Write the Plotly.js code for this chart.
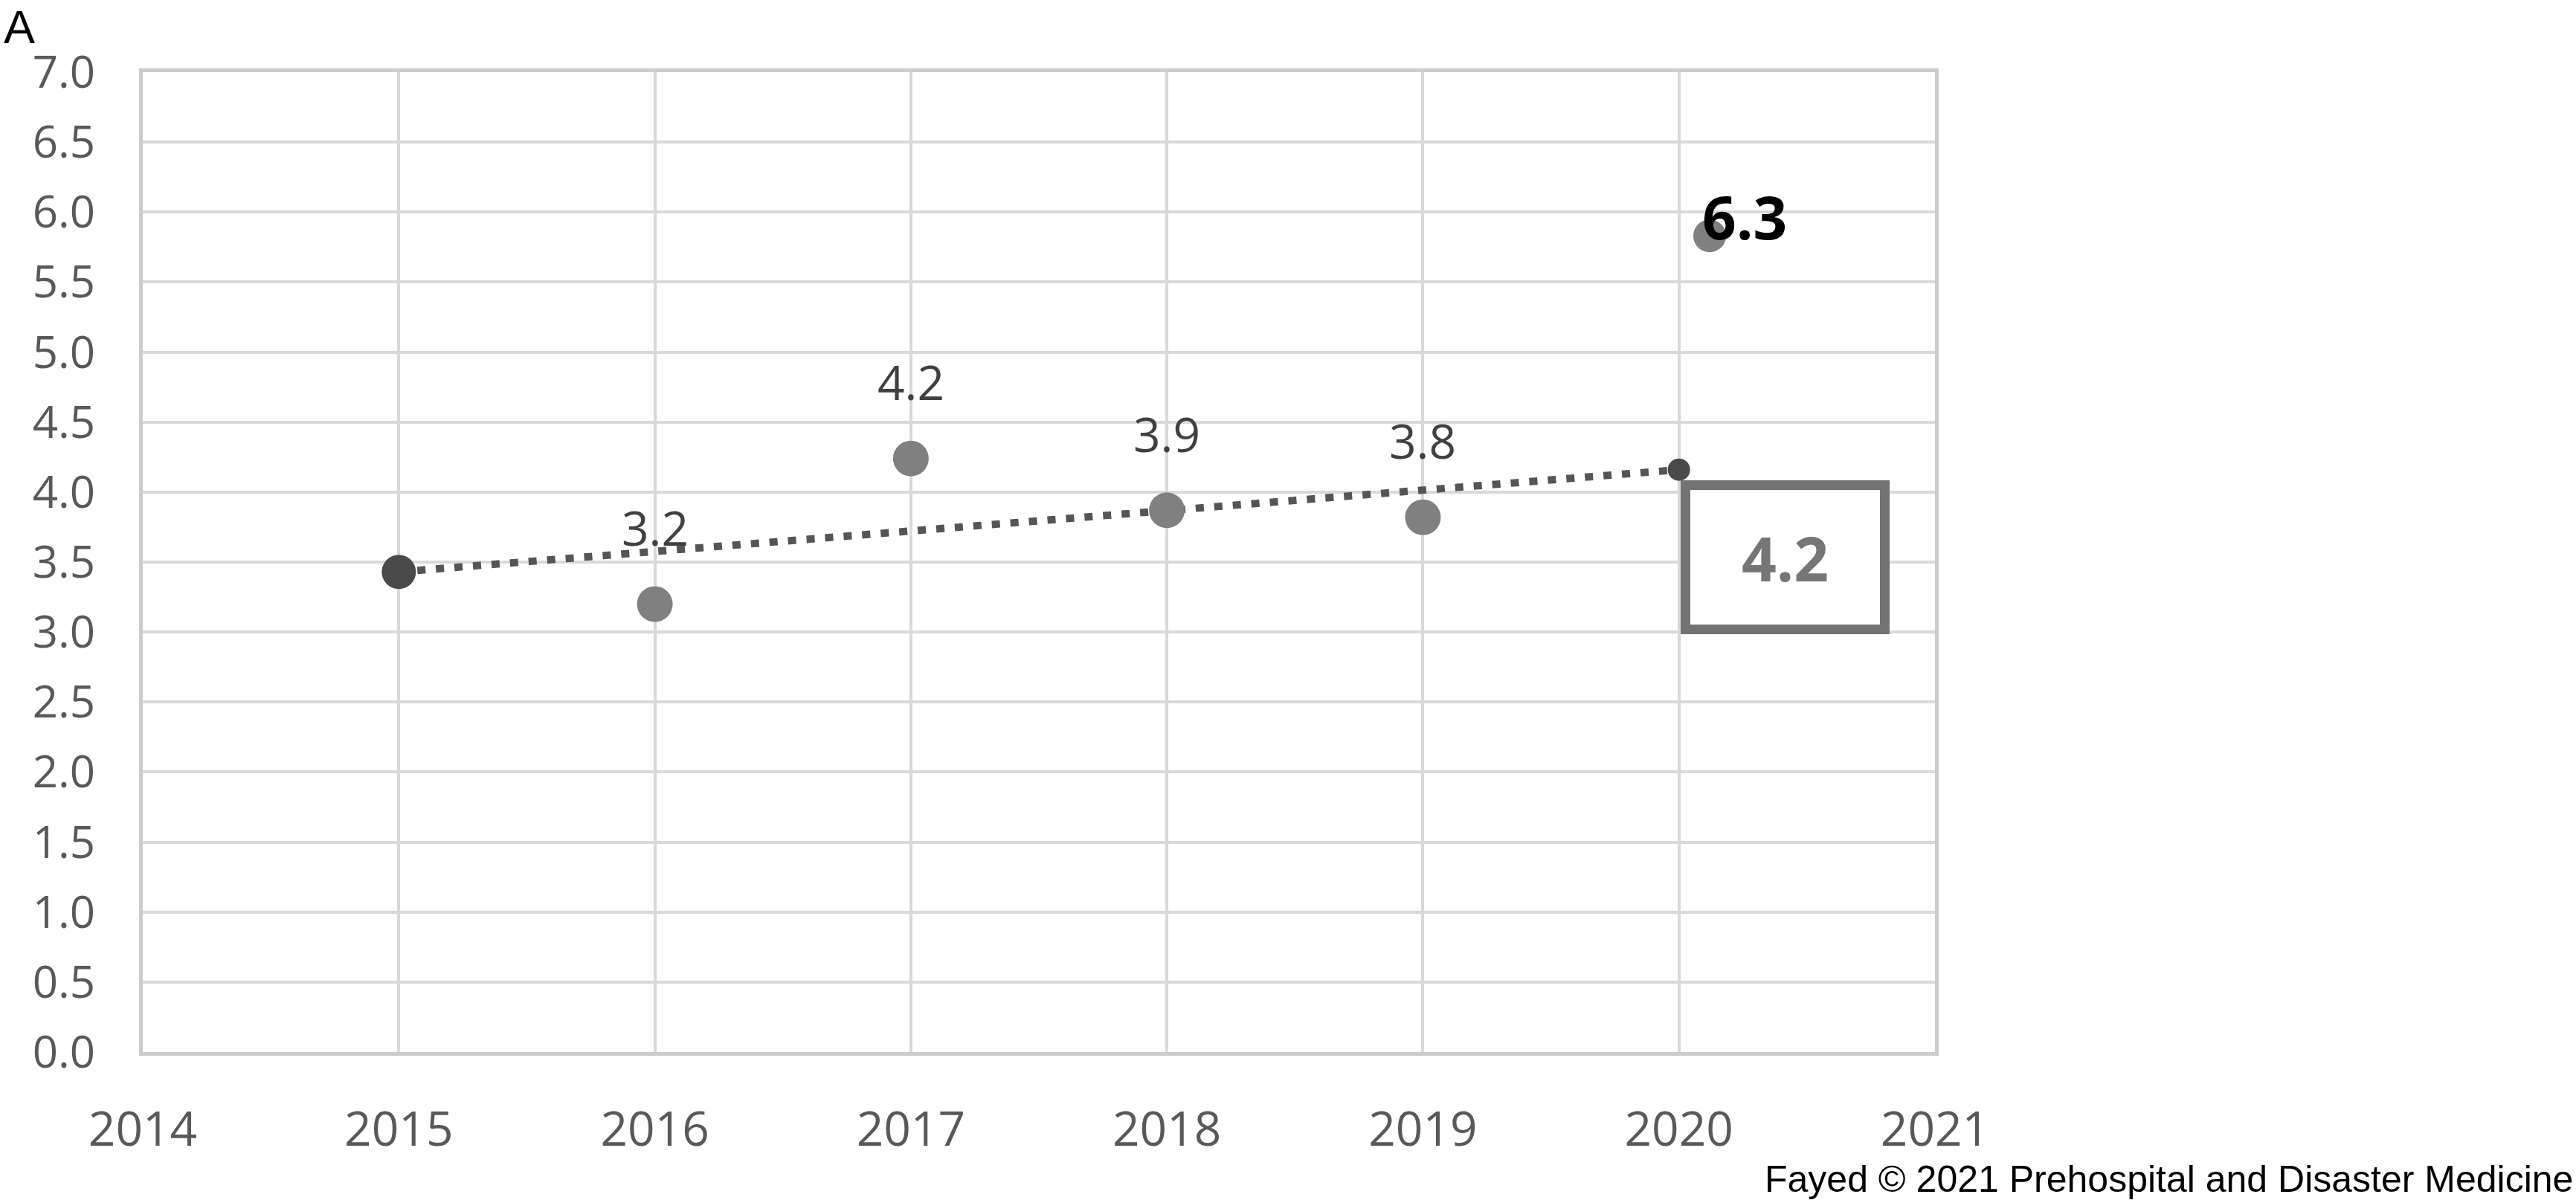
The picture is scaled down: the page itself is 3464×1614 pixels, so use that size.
<!DOCTYPE html>
<html>
<head>
<meta charset="utf-8">
<script src="https://cdn.plot.ly/plotly-3.0.1.min.js"></script>
<style>
  html, body { margin: 0; padding: 0; background: #ffffff; }
  #chart { width: 3464px; height: 1614px; }
</style>
</head>
<body>
<div id="chart"></div>
<script>
// ---- Data ----
const years = [2016, 2017, 2018, 2019];
const values = [3.20, 4.24, 3.87, 3.82];
const valueLabels = ['3.2', '4.2', '3.9', '3.8'];

const trendYears = [2015, 2020];
const trendValues = [3.43, 4.16];
const predictedLabel = ['4.2'];

const outlierYear = [2020.12];
const outlierValue = [5.83];
const outlierLabel = ['6.3'];

const xTickVals = [2014, 2015, 2016, 2017, 2018, 2019, 2020, 2021];
const yTickVals = [0, 0.5, 1, 1.5, 2, 2.5, 3, 3.5, 4, 4.5, 5, 5.5, 6, 6.5, 7];

const panelLabel = 'A';
const footerText = 'Fayed \u00A9 2021 Prehospital and Disaster Medicine';

// ---- Layout geometry (pixels) ----
const W = 3464, H = 1614;
const L = 192, R = 2602, T = 97, B = 1415;
const pw = R - L, ph = B - T;
const px2x = p => (p - L) / pw;
const px2y = p => (B - p) / ph;

const traces = [
  {
    x: trendYears, y: trendValues,
    type: 'scatter', mode: 'lines',
    line: { color: '#555555', width: 10, dash: '11px,14px' },
    hoverinfo: 'skip', showlegend: false
  },
  {
    x: years, y: values,
    type: 'scatter', mode: 'markers',
    marker: { color: '#808080', size: 48, opacity: 1, line: { width: 0 } },
    showlegend: false
  },
  {
    x: trendYears, y: trendValues,
    type: 'scatter', mode: 'markers',
    marker: { color: '#4a4a4a', size: [46, 30], opacity: 1, line: { width: 0 } },
    showlegend: false
  },
  {
    x: outlierYear, y: outlierValue,
    type: 'scatter', mode: 'markers',
    marker: { color: '#808080', size: 44, opacity: 1, line: { width: 0 } },
    showlegend: false
  }
];

const annotations = [];
years.forEach((yr, i) => {
  annotations.push({
    x: yr, y: values[i], xref: 'x', yref: 'y',
    text: valueLabels[i], showarrow: false,
    yshift: 103, xanchor: 'center', yanchor: 'middle',
    font: { family: 'Open Sans', size: 64, color: '#404040' }
  });
});
annotations.push({
  x: outlierYear[0], y: outlierValue[0], xref: 'x', yref: 'y',
  text: outlierLabel[0], showarrow: false,
  xshift: 47, yshift: 27, xanchor: 'center', yanchor: 'middle',
  font: { family: 'Open Sans', size: 80, color: '#000000', weight: 700 }
});
annotations.push({
  x: trendYears[1], y: trendValues[1], xref: 'x', yref: 'y',
  text: predictedLabel[0], showarrow: false,
  xshift: 143, yshift: -118, xanchor: 'center', yanchor: 'middle',
  width: 255, height: 181, align: 'center', valign: 'middle',
  bordercolor: '#737373', borderwidth: 13, borderpad: 0, bgcolor: '#ffffff',
  font: { family: 'Open Sans', size: 82, color: '#767676', weight: 700 }
});
annotations.push({
  x: px2x(3), y: px2y(36), xref: 'paper', yref: 'paper',
  text: panelLabel, showarrow: false, xanchor: 'left', yanchor: 'middle',
  font: { family: 'Liberation Sans', size: 63, color: '#000000' }
});
annotations.push({
  x: px2x(3462), y: px2y(1586), xref: 'paper', yref: 'paper',
  text: footerText, showarrow: false, xanchor: 'right', yanchor: 'middle',
  font: { family: 'Liberation Sans', size: 50, color: '#000000' }
});

const layout = {
  width: W, height: H,
  margin: { l: L, r: W - R, t: T, b: H - B, pad: 0 },
  paper_bgcolor: '#ffffff', plot_bgcolor: '#ffffff',
  showlegend: false,
  xaxis: {
    range: [2014, 2021], tickmode: 'array', tickvals: xTickVals,
    ticktext: xTickVals.map(String),
    showgrid: true, gridcolor: '#d9d9d9', gridwidth: 4,
    showline: true, linecolor: '#cccccc', linewidth: 5, mirror: true,
    zeroline: false,
    ticks: 'outside', ticklen: 44, tickcolor: 'rgba(0,0,0,0)',
    tickfont: { family: 'Open Sans', size: 64, color: '#595959' }
  },
  yaxis: {
    range: [0, 7], tickmode: 'array', tickvals: yTickVals,
    ticktext: yTickVals.map(v => v.toFixed(1)),
    showgrid: true, gridcolor: '#d9d9d9', gridwidth: 4,
    showline: true, linecolor: '#cccccc', linewidth: 5, mirror: true,
    zeroline: false,
    ticks: 'outside', ticklen: 47, tickcolor: 'rgba(0,0,0,0)',
    tickfont: { family: 'Open Sans', size: 60, color: '#595959' }
  },
  annotations: annotations
};

Plotly.newPlot('chart', traces, layout, { staticPlot: true, displayModeBar: false });
</script>
</body>
</html>
